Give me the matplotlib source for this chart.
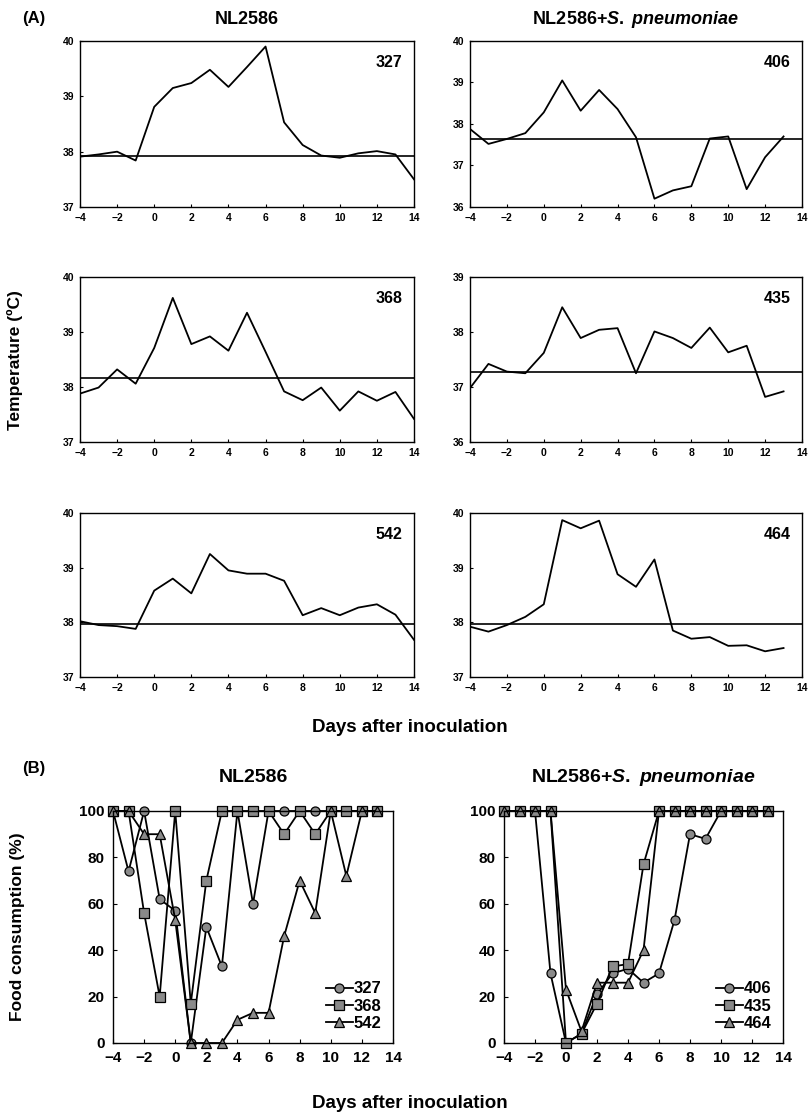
import numpy as np
import matplotlib
matplotlib.use("Agg")
import matplotlib.pyplot as plt

plt.rcParams['font.family'] = ['Liberation Sans', 'DejaVu Sans']
plt.rcParams['font.weight'] = 'bold'
plt.rcParams['mathtext.fontset'] = 'custom'
plt.rcParams['mathtext.it'] = 'Liberation Sans:italic:bold'
plt.rcParams['mathtext.rm'] = 'Liberation Sans:bold'

#-- Data: panel A, daily temperature (deg C)
days_a = list(range(-4, 15))
days_a13 = list(range(-4, 14))

temp_327 = [37.91, 37.95, 38.0, 37.84, 38.81, 39.15, 39.24, 39.48, 39.17, 39.53,
            39.9, 38.53, 38.12, 37.93, 37.89, 37.97, 38.01, 37.95, 37.5]
temp_368 = [37.88, 37.99, 38.32, 38.06, 38.71, 39.62, 38.78, 38.92, 38.66, 39.35,
            38.64, 37.92, 37.76, 37.99, 37.57, 37.92, 37.75, 37.91, 37.42]
temp_542 = [38.02, 37.95, 37.93, 37.88, 38.58, 38.8, 38.53, 39.25, 38.95, 38.89,
            38.89, 38.76, 38.13, 38.26, 38.13, 38.27, 38.33, 38.14, 37.68]
temp_406 = [37.88, 37.52, 37.64, 37.78, 38.28, 39.05, 38.32, 38.82, 38.36, 37.68,
            36.2, 36.4, 36.5, 37.65, 37.7, 36.43, 37.2, 37.7]
temp_435 = [36.98, 37.42, 37.28, 37.25, 37.62, 38.45, 37.89, 38.04, 38.07, 37.25,
            38.01, 37.89, 37.71, 38.08, 37.63, 37.75, 36.82, 36.92]
temp_464 = [37.92, 37.83, 37.95, 38.1, 38.33, 39.87, 39.72, 39.86, 38.88, 38.65,
            39.15, 37.85, 37.7, 37.73, 37.57, 37.58, 37.47, 37.53]

base_327, base_368, base_542 = 37.93, 38.16, 37.97
base_406, base_435, base_464 = 37.65, 37.28, 37.97

ylim_327, ylim_368, ylim_542 = (37, 40), (37, 40), (37, 40)
ylim_406, ylim_435, ylim_464 = (36, 40), (36, 39), (37, 40)

#-- Data: panel B, food consumption (%)
days_b = list(range(-4, 14))
food_327 = [100, 74, 100, 62, 57, 0, 50, 33, 100, 60, 100, 100, 100, 100, 100, 100, 100, 100]
food_368 = [100, 100, 56, 20, 100, 17, 70, 100, 100, 100, 100, 90, 100, 90, 100, 100, 100, 100]
food_542 = [100, 100, 90, 90, 53, 0, 0, 0, 10, 13, 13, 46, 70, 56, 100, 72, 100, 100]
food_406 = [100, 100, 100, 30, 0, 4, 21, 30, 32, 26, 30, 53, 90, 88, 100, 100, 100, 100]
food_435 = [100, 100, 100, 100, 0, 4, 17, 33, 34, 77, 100, 100, 100, 100, 100, 100, 100, 100]
food_464 = [100, 100, 100, 100, 23, 5, 26, 26, 26, 40, 100, 100, 100, 100, 100, 100, 100, 100]

W, H = 808, 1116
fig = plt.figure(figsize=(W / 100, H / 100), dpi=100)


def px_axes(l, t, r, b):
    return fig.add_axes([l / W, 1 - b / H, (r - l) / W, (b - t) / H])


def temp_panel(rect, x, y, base, ylim, label):
    ax = px_axes(*rect)
    ax.plot(x, y, color='black', lw=1.3)
    ax.axhline(base, color='black', lw=1.2)
    ax.set_xlim(-4, 14)
    ax.set_ylim(*ylim)
    ax.set_xticks(range(-4, 15, 2))
    ax.set_yticks(range(ylim[0], ylim[1] + 1))
    ax.tick_params(direction='in', length=2, width=0.8, labelsize=7.5, pad=4)
    for lab in ax.get_xticklabels() + ax.get_yticklabels():
        lab.set_fontweight('bold')
    for s in ax.spines.values():
        s.set_linewidth(1.0)
    ax.text(0.925, 0.87, label, transform=ax.transAxes, ha='center', va='center',
            fontsize=11.5, fontweight='bold')
    return ax


cols = [(80, 414), (470, 802)]
rows = [(41, 207), (277, 442), (513, 677)]

temp_panel((cols[0][0], rows[0][0], cols[0][1], rows[0][1]), days_a, temp_327, base_327, ylim_327, '327')
temp_panel((cols[0][0], rows[1][0], cols[0][1], rows[1][1]), days_a, temp_368, base_368, ylim_368, '368')
temp_panel((cols[0][0], rows[2][0], cols[0][1], rows[2][1]), days_a, temp_542, base_542, ylim_542, '542')
temp_panel((cols[1][0], rows[0][0], cols[1][1], rows[0][1]), days_a13, temp_406, base_406, ylim_406, '406')
temp_panel((cols[1][0], rows[1][0], cols[1][1], rows[1][1]), days_a13, temp_435, base_435, ylim_435, '435')
temp_panel((cols[1][0], rows[2][0], cols[1][1], rows[2][1]), days_a13, temp_464, base_464, ylim_464, '464')


def food_panel(rect, series, labels):
    ax = px_axes(*rect)
    markers = ['o', 's', '^']
    for (y, lab, m) in zip(series, labels, markers):
        ax.plot(days_b, y, color='black', lw=1.3, marker=m, markersize=7 if m != 'o' else 6.5,
                markerfacecolor='#8a8a8a', markeredgecolor='black', markeredgewidth=0.9,
                label=lab, clip_on=False)
    ax.set_xlim(-4, 14)
    ax.set_ylim(0, 100)
    ax.set_xticks(range(-4, 15, 2))
    ax.set_yticks(range(0, 101, 20))
    ax.tick_params(direction='in', length=3, width=0.8, labelsize=11, pad=6)
    for lab in ax.get_xticklabels() + ax.get_yticklabels():
        lab.set_fontweight('bold')
    for s in ax.spines.values():
        s.set_linewidth(1.0)
    leg = ax.legend(loc='lower right', frameon=False, fontsize=12, handlelength=1.6,
                    handletextpad=0.05, labelspacing=0.15, borderaxespad=0.3)
    for t in leg.get_texts():
        t.set_fontweight('bold')
    return ax


food_panel((113, 811, 393, 1043), [food_327, food_368, food_542], ['327', '368', '542'])
food_panel((504, 811, 783, 1043), [food_406, food_435, food_464], ['406', '435', '464'])

# titles and labels
sp_title = r'NL2586+$\it{S.}$ $\it{pneumoniae}$'
fig.text(247 / W, 1 - 19 / H, 'NL2586', ha='center', va='center', fontsize=13, fontweight='bold')
fig.text(636 / W, 1 - 19 / H, sp_title, ha='center', va='center', fontsize=13, fontweight='bold')
fig.text(22 / W, 1 - 19 / H, '(A)', ha='left', va='center', fontsize=12)
fig.text(15 / W, 1 - 360 / H, 'Temperature (ºC)', ha='center', va='center', rotation=90,
         fontsize=12.5, fontweight='bold')
fig.text(410 / W, 1 - 728 / H, 'Days after inoculation', ha='center', va='center',
         fontsize=13.5, fontweight='bold')

fig.text(22 / W, 1 - 768 / H, '(B)', ha='left', va='center', fontsize=12)
fig.text(253 / W, 1 - 777 / H, 'NL2586', ha='center', va='center', fontsize=14, fontweight='bold')
fig.text(643 / W, 1 - 778 / H, sp_title, ha='center', va='center', fontsize=14, fontweight='bold')
fig.text(18 / W, 1 - 927 / H, 'Food consumption (%)', ha='center', va='center', rotation=90,
         fontsize=12.5, fontweight='bold')
fig.text(410 / W, 1 - 1103 / H, 'Days after inoculation', ha='center', va='center',
         fontsize=13.5, fontweight='bold')

fig.savefig('out.png', dpi=100)
